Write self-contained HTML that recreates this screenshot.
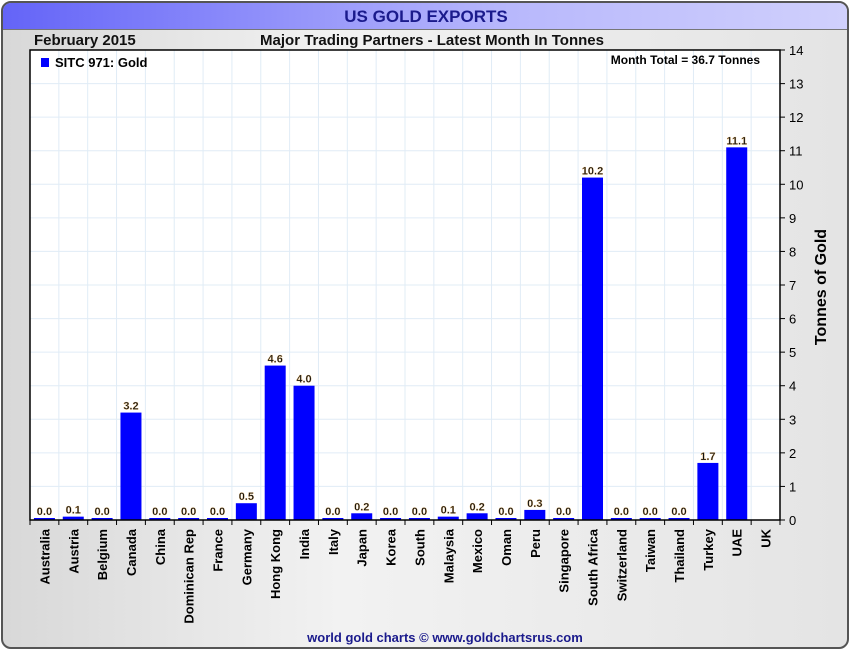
<!DOCTYPE html>
<html><head><meta charset="utf-8"><style>
body{margin:0;width:850px;height:650px;background:#fff;font-family:"Liberation Sans",Arial,sans-serif;overflow:hidden}
#frame{position:absolute;left:1px;top:1px;width:844px;height:644px;border:2px solid #555;border-radius:10px;background:linear-gradient(90deg,#d8d8d8,#f2f2f2 40%,#e4e4e4);overflow:hidden}
#titlebar{position:absolute;left:0;top:0;width:100%;height:26px;background:linear-gradient(90deg,#6464f8,#b8b8fc 60%,#d0d0fc);border-bottom:1px solid #777}
</style></head><body>
<div id="frame">
<div id="titlebar"></div>
<svg width="846" height="646" style="position:absolute;left:0;top:0" id="svg">
<text x="423" y="19" text-anchor="middle" font-size="17" font-weight="bold" fill="#1a1a8c">US GOLD EXPORTS</text>
<text x="31" y="42" font-size="15" font-weight="bold" fill="#111">February 2015</text>
<text x="429" y="42" text-anchor="middle" font-size="15" font-weight="bold" fill="#111">Major Trading Partners - Latest Month In Tonnes</text>
<text x="442" y="639" text-anchor="middle" font-size="13" font-weight="bold" fill="#1a1a8c">world gold charts © www.goldchartsrus.com</text>
<g id="plot"></g>
</svg>
</div>
<script>
const categories=["Australia","Austria","Belgium","Canada","China","Dominican Rep","France","Germany","Hong Kong","India","Italy","Japan","Korea","South","Malaysia","Mexico","Oman","Peru","Singapore","South Africa","Switzerland","Taiwan","Thailand","Turkey","UAE","UK"];
const values=[0.0,0.1,0.0,3.2,0.0,0.0,0.0,0.5,4.6,4.0,0.0,0.2,0.0,0.0,0.1,0.2,0.0,0.3,0.0,10.2,0.0,0.0,0.0,1.7,11.1,null];
const yTicks=[0,1,2,3,4,5,6,7,8,9,10,11,12,13,14];
</script>
<script>
(function(){
const cats=categories;
const vals=values;
const g=document.getElementById('plot');const NS='http://www.w3.org/2000/svg';
const L=27,R=777,T=47,B=517,ymax=14;
const cw=(R-L)/cats.length;
const x=i=>L+i*cw;
const y=v=>B-(v/ymax)*(B-T);
function el(t,a,p){const e=document.createElementNS(NS,t);for(const k in a)e.setAttribute(k,a[k]);(p||g).appendChild(e);return e;}
const bg=el('rect',{x:L,y:T,width:R-L,height:B-T,fill:'#fff'});


yTicks.forEach(t=>{
 const ln=el('line',{x1:L,x2:R,y1:y(t),y2:y(t),stroke:'#e0ecf6','stroke-width':1});
 
 
 const tk=el('line',{x1:R,x2:R+5,y1:y(t),y2:y(t),stroke:'#000'});
 
 
 const tx=el('text',{x:R+9,y:y(t)+5,'font-size':13,fill:'#000'});tx.textContent=t;
 
 
});
for(let i=0;i<=cats.length;i++){
 const ln=el('line',{x1:x(i),x2:x(i),y1:T,y2:B,stroke:'#e0ecf6'});
 
 
 const tk=el('line',{x1:x(i),x2:x(i),y1:B,y2:B+5,stroke:'#000'});
 
 
}
cats.forEach((c,i)=>{
 const cx=x(i)+cw/2;
 const v=vals[i];
 if(v!==null&&v!==undefined){
  const h=Math.max(2,B-y(v));
  const r=el('rect',{x:cx-10.5,y:B-h,width:21,height:h,fill:'#0000ff'});
  
  
  const t=el('text',{x:cx,y:B-h-3,'text-anchor':'middle','font-size':11,'font-weight':'bold',fill:'#111',stroke:'#f5c070','stroke-width':0.3});t.textContent=v.toFixed(1);
  
  
 }
 const t=el('text',{transform:`translate(${cx+5},${B+9}) rotate(-90)`,'text-anchor':'end','font-size':13,'font-weight':'bold',fill:'#000'});t.textContent=c;
 
 
});
const fr=el('rect',{x:L,y:T,width:R-L,height:B-T,fill:'none',stroke:'#000','stroke-width':1.5});


const lg=el('rect',{x:38,y:55,width:8,height:9,fill:'#0000ff'});


const lt=el('text',{x:52,y:64,'font-size':13,'font-weight':'bold',fill:'#000'});lt.textContent='SITC 971: Gold';


const mt=el('text',{x:757,y:61,'text-anchor':'end','font-size':12,'font-weight':'bold',fill:'#000'});mt.textContent='Month Total = 36.7 Tonnes';


const yt=el('text',{transform:`translate(823,284) rotate(-90)`,'text-anchor':'middle','font-size':16,'font-weight':'bold',fill:'#000'});yt.textContent='Tonnes of Gold';


})();
</script>
</body></html>
